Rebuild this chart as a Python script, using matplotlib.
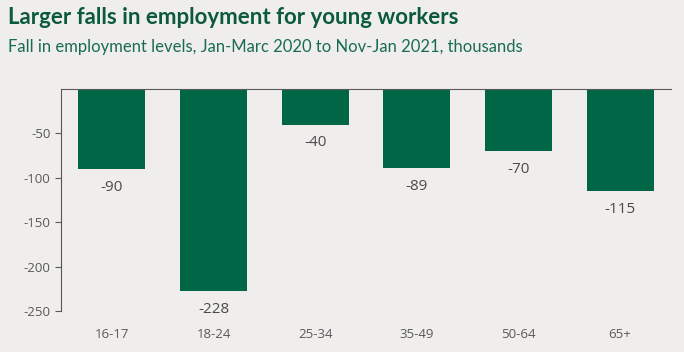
import matplotlib
matplotlib.use('Agg')
import matplotlib.pyplot as plt

# age groups and fall in employment (thousands)
groups = ['16-17', '18-24', '25-34', '35-49', '50-64', '65+']
falls = [-90, -228, -40, -89, -70, -115]
yticks = [-50, -100, -150, -200, -250]

bg = '#efeeec'
green = '#006646'
grey = '#595959'

plt.rcParams['font.family'] = ['Open Sans', 'DejaVu Sans']

fig = plt.figure(figsize=(6.84, 3.52), dpi=100, facecolor=bg)
ax = fig.add_axes([61/684, 1 - 311/352, 610/684, 222/352])
ax.set_facecolor(bg)

x = range(len(groups))
ax.bar(x, falls, width=0.66, color=green)
for i, v in zip(x, falls):
    ax.text(i, v - 12, str(v), ha='center', va='top', fontsize=11, color='#4a4a4a')

ax.set_xlim(-0.5, len(groups) - 0.5)
ax.set_ylim(-250, 0)
ax.set_yticks(yticks)
ax.set_yticklabels([str(t) for t in yticks])
ax.set_xticks(list(x))
ax.set_xticklabels(groups)
ax.tick_params(axis='x', length=0, pad=12, labelsize=9.5, labelcolor=grey)
ax.tick_params(axis='y', length=4, color=grey, labelsize=9.5, labelcolor=grey)

for s in ['right', 'bottom']:
    ax.spines[s].set_visible(False)
ax.spines['left'].set_color(grey)
ax.spines['top'].set_color(grey)

fig.text(8/684, 1 - 17/352, 'Larger falls in employment for young workers',
         fontsize=16, fontweight='bold', color='#0b5a3c', va='center', ha='left',
         family=['Lato', 'DejaVu Sans'])
fig.text(8/684, 1 - 47/352,
         'Fall in employment levels, Jan-Marc 2020 to Nov-Jan 2021, thousands',
         fontsize=12, color='#1a6b55', va='center', ha='left',
         family=['Lato', 'DejaVu Sans'])

fig.savefig('out.png', dpi=100, facecolor=bg)
